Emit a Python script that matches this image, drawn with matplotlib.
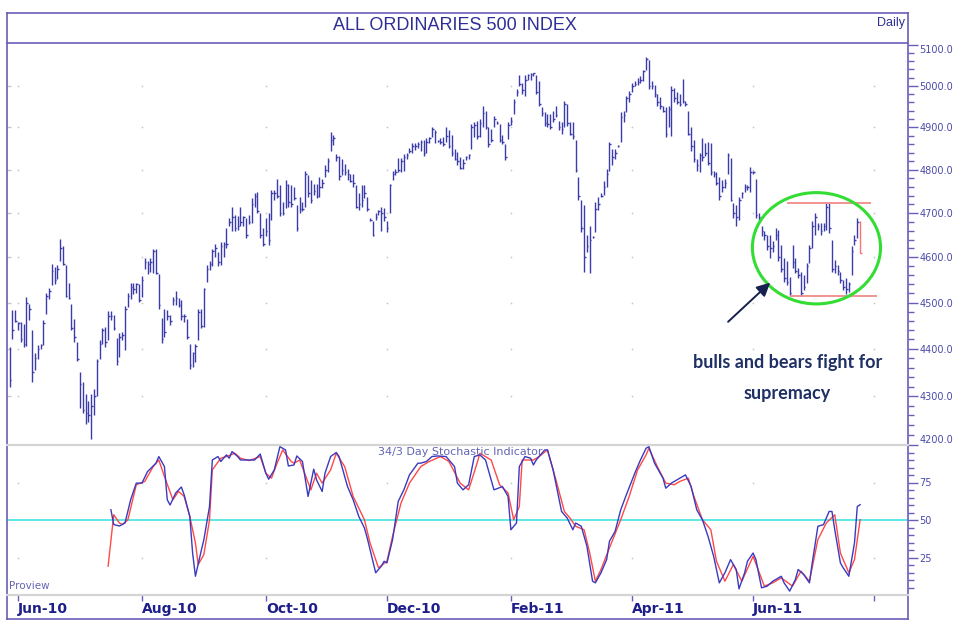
import pandas as pd
from matplotlib import pyplot as plt
from matplotlib.lines import Line2D
from matplotlib.patches import Ellipse
from matplotlib.ticker import FixedLocator, FixedFormatter, NullFormatter

# daily bars (high / low / close)
high = [4403, 4483, 4483, 4458, 4458, 4454, 4512, 4497, 4441, 4390, 4408, 4411, 4462, 4520, 4531, 4585,
        4578, 4582, 4641, 4626, 4583, 4544, 4497, 4465, 4415, 4350, 4329, 4305, 4289, 4305, 4315, 4379,
        4418, 4444, 4447, 4482, 4482, 4472, 4424, 4433, 4436, 4492, 4520, 4544, 4542, 4544, 4540, 4558,
        4599, 4591, 4599, 4619, 4619, 4562, 4467, 4487, 4483, 4472, 4512, 4526, 4510, 4505, 4476, 4465,
        4411, 4393, 4411, 4487, 4487, 4533, 4583, 4591, 4619, 4630, 4612, 4634, 4634,
        4666, 4689, 4715, 4696, 4693, 4715, 4693, 4689, 4696, 4734, 4745, 4749, 4700, 4666, 4689, 4700,
        4753, 4753, 4779, 4764, 4726, 4776, 4768, 4764, 4760, 4719, 4738, 4726, 4798, 4787, 4776, 4768,
        4768, 4783, 4779, 4810, 4828, 4889, 4881, 4836, 4832, 4825, 4813, 4802, 4791, 4791, 4764, 4745,
        4764, 4764, 4738, 4689, 4681, 4700, 4708, 4715, 4711, 4683, 4768, 4798, 4802, 4828, 4828, 4836,
        4840, 4851, 4862, 4862, 4866, 4870, 4870, 4874, 4878, 4900, 4893, 4870, 4875, 4878,
        4901, 4893, 4881, 4849, 4841, 4829, 4826, 4833, 4837, 4908, 4912, 4916, 4920, 4952, 4940, 4901,
        4897, 4928, 4916, 4908, 4881, 4861, 4912, 4924, 4968, 4991, 5027, 5007, 5027, 5029, 5031, 5032,
        5027, 5011, 4948, 4936, 4932, 4932, 4940, 4952, 4916, 4912, 4964, 4956, 4912, 4912, 4869, 4782,
        4730, 4718, 4651, 4670, 4647, 4726, 4737, 4745, 4775, 4802, 4865, 4849, 4849, 4857, 4936, 4940,
        4976, 4987, 5007, 5011, 5019, 5023, 5039, 5070, 5062, 5011, 5003, 4980, 4972, 4952,
        4948, 4950, 5000, 4995, 4985, 4980, 5016, 4962, 4938, 4900, 4870, 4825, 4840, 4874, 4862, 4866,
        4862, 4798, 4795, 4783, 4776, 4779, 4840, 4828, 4723, 4719, 4738, 4749, 4768, 4764, 4806, 4798,
        4779, 4700,
        4670, 4659, 4651, 4651, 4636, 4666, 4662, 4628, 4598, 4591, 4557, 4628, 4598, 4576, 4568, 4560,
        4587, 4628, 4681, 4700, 4678, 4678, 4678, 4723, 4723, 4640, 4595, 4583, 4568, 4549, 4553, 4545,
        4625, 4651, 4689, 4681]
low = [4320, 4420, 4458, 4440, 4415, 4404, 4406, 4462, 4329, 4354, 4379, 4400, 4408, 4474, 4508, 4539,
       4540, 4551, 4591, 4583, 4512, 4508, 4441, 4415, 4374, 4275, 4264, 4243, 4246, 4212, 4261, 4300,
       4379, 4411, 4404, 4418, 4462, 4440, 4365, 4383, 4418, 4397, 4490, 4508, 4519, 4522, 4501, 4512,
       4573, 4562, 4568, 4566, 4562, 4487, 4413, 4426, 4463, 4451, 4494, 4494, 4490, 4462, 4458, 4422,
       4358, 4361, 4372, 4418, 4444, 4447, 4546, 4571, 4580, 4601, 4580, 4583, 4601,
       4621, 4670, 4659, 4659, 4662, 4670, 4670, 4644, 4674, 4678, 4715, 4700, 4644, 4625, 4647, 4628,
       4685, 4730, 4734, 4693, 4696, 4711, 4715, 4715, 4730, 4659, 4700, 4704, 4715, 4738, 4723, 4742,
       4734, 4738, 4757, 4783, 4795, 4844, 4859, 4821, 4776, 4787, 4787, 4776, 4772, 4761, 4711, 4708,
       4715, 4734, 4704, 4681, 4647, 4685, 4696, 4659, 4681, 4657, 4700, 4776, 4787, 4795, 4795, 4798,
       4825, 4840, 4840, 4847, 4851, 4844, 4832, 4840, 4862, 4878, 4862, 4866, 4860, 4855,
       4865, 4851, 4833, 4822, 4810, 4802, 4802, 4822, 4826, 4849, 4877, 4873, 4877, 4901, 4897, 4853,
       4865, 4901, 4908, 4865, 4861, 4822, 4873, 4905, 4932, 4976, 4999, 4980, 4976, 5015, 5015, 5023,
       4980, 4952, 4928, 4904, 4901, 4897, 4912, 4924, 4893, 4885, 4901, 4904, 4881, 4873, 4794, 4730,
       4658, 4568, 4613, 4565, 4643, 4658, 4707, 4737, 4741, 4760, 4797, 4810, 4826, 4853, 4865, 4912,
       4936, 4960, 4984, 4999, 5003, 5007, 5011, 5039, 4991, 4991, 4972, 4952, 4944, 4936,
       4876, 4900, 4880, 4960, 4955, 4950, 4958, 4950, 4881, 4844, 4817, 4798, 4795, 4821, 4832, 4810,
       4787, 4783, 4764, 4730, 4749, 4757, 4791, 4727, 4689, 4670, 4685, 4734, 4749, 4753, 4749, 4790,
       4689, 4685,
       4647, 4640, 4617, 4598, 4613, 4640, 4591, 4568, 4545, 4538, 4515, 4576, 4564, 4553, 4515, 4527,
       4542, 4587, 4621, 4651, 4662, 4651, 4659, 4662, 4655, 4568, 4564, 4560, 4542, 4527, 4519, 4523,
       4560, 4628, 4644, 4610]
close = [4333, 4440, 4460, 4455, 4420, 4410, 4500, 4485, 4350, 4380, 4400, 4408, 4455, 4515, 4525, 4570,
         4550, 4575, 4620, 4585, 4515, 4510, 4445, 4425, 4378, 4325, 4270, 4265, 4260, 4280, 4300, 4375,
         4410, 4440, 4415, 4470, 4470, 4445, 4375, 4425, 4430, 4485, 4515, 4535, 4530, 4540, 4505, 4550,
         4590, 4585, 4590, 4615, 4565, 4495, 4420, 4435, 4470, 4460, 4505, 4510, 4495, 4470, 4470, 4425,
         4365, 4390, 4405, 4480, 4450, 4530, 4575, 4585, 4615, 4620, 4590, 4625, 4630,
         4630, 4680, 4690, 4665, 4670, 4680, 4690, 4650, 4680, 4720, 4740, 4705, 4650, 4630, 4660, 4640,
         4745, 4745, 4740, 4700, 4700, 4765, 4725, 4720, 4735, 4665, 4710, 4710, 4790, 4745, 4730, 4750,
         4740, 4760, 4770, 4800, 4820, 4870, 4875, 4830, 4785, 4800, 4795, 4790, 4775, 4770, 4715, 4720,
         4730, 4745, 4710, 4685, 4650, 4690, 4705, 4700, 4690, 4665, 4765, 4790, 4795, 4800, 4820, 4830,
         4835, 4845, 4855, 4855, 4860, 4865, 4840, 4865, 4875, 4895, 4890, 4868, 4865, 4860,
         4880, 4855, 4840, 4825, 4820, 4805, 4815, 4830, 4835, 4900, 4905, 4880, 4910, 4935, 4900, 4860,
         4870, 4920, 4910, 4870, 4865, 4830, 4905, 4915, 4960, 4985, 5005, 4990, 5015, 5025, 5028, 5030,
         4985, 4955, 4935, 4910, 4908, 4900, 4920, 4930, 4900, 4895, 4955, 4910, 4885, 4880, 4800, 4740,
         4665, 4600, 4625, 4640, 4645, 4710, 4720, 4740, 4760, 4790, 4860, 4830, 4840, 4855, 4925, 4930,
         4970, 4980, 5000, 5005, 5010, 5015, 5035, 5065, 5000, 5000, 4980, 4960, 4950, 4940,
         4885, 4945, 4990, 4970, 4960, 4955, 4962, 4955, 4885, 4855, 4825, 4810, 4835, 4830, 4840, 4815,
         4795, 4790, 4770, 4740, 4760, 4770, 4835, 4730, 4700, 4690, 4730, 4745, 4760, 4760, 4795, 4795,
         4695, 4690,
         4660, 4650, 4625, 4620, 4625, 4650, 4600, 4575, 4555, 4545, 4520, 4590, 4570, 4560, 4520, 4535,
         4580, 4620, 4670, 4690, 4670, 4660, 4670, 4715, 4665, 4575, 4580, 4570, 4550, 4535, 4530, 4540,
         4615, 4640, 4680, 4610]

# 34/3 stochastic, read at turning points (trading day number, value)
stoch_k_day = [36, 37, 39, 41, 43, 45, 47, 49, 52, 53, 55, 56, 57, 59, 61, 62, 64, 65, 66, 68, 69, 71, 72,
               74, 75, 77, 78, 79, 81, 82, 84, 87, 89, 91, 92, 94, 96, 98, 99, 101, 102, 104, 106, 108,
               109, 111, 112, 114, 116, 117, 120, 122, 124, 126, 127, 129, 130, 132, 133, 134, 136, 138,
               140, 142, 145, 146, 148, 150, 152, 155, 158, 159, 161, 163, 165, 167, 169, 172, 175, 177,
               178, 180, 181, 183, 185, 186, 187, 190, 191, 193, 196, 198, 200, 201, 203, 205, 207, 208,
               210, 212, 213, 215, 217, 219, 222, 224, 226, 227, 229, 232, 233, 235, 238, 240, 242, 244,
               246, 248, 250, 252, 254, 256, 258, 259, 261, 262, 264, 265, 267, 269, 271, 274, 275, 277,
               279, 280, 282, 284, 285, 287, 289, 291, 292, 293, 295, 296, 298, 300, 301, 302]
stoch_k = [56.8, 47, 46, 48, 63.5, 74.6, 74.6, 82.3, 87.9, 92.3, 85.6, 63.5, 60, 68, 72, 66.8, 52.4, 28,
           12.5, 29, 36.9, 59, 90, 92.3, 89, 93.4, 91.2, 95.6, 92.3, 90, 90, 90, 94, 81.2, 77.2, 83.4,
           98.9, 96.7, 86, 86.7, 92.7, 89, 65.7, 83.9, 76.8, 69, 81.2, 92.3, 95, 92.3, 72.3, 63.5, 52.4,
           44.7, 38, 22.5, 14.8, 19.2, 22.5, 21.4, 36.9, 62.4, 70.1, 80.1, 87.9, 87.9, 89, 92.3, 92.7,
           92.3, 85.6, 74.6, 70.1, 73.5, 92.3, 93.4, 90, 70.1, 72.3, 65.7, 43.5, 48, 85.6, 92.3, 91.2,
           86.7, 90, 96.7, 96.7, 83.4, 55.7, 51.3, 43.5, 48, 45.8, 32.5, 9.2, 8.1, 14.8, 23.6, 35.8,
           42.4, 56.8, 66.8, 81.2, 90, 97.8, 98.9, 87.9, 77.9, 71.2, 74.6, 77.9, 80.1, 72.3, 56.8, 50.2,
           39.1, 25.8, 8.1, 14.8, 23.6, 17, 4.1, 14.8, 22.5, 28, 23.6, 4.8, 5.9, 9.2, 12.5, 8.1, 2.6,
           10.3, 17, 13.6, 8.1, 21.4, 45.8, 46.9, 55.7, 55.7, 43.5, 21.4, 18.1, 12.5, 34.7, 59, 60.2]
stoch_d_day = [35, 37, 39, 40, 42, 45, 48, 51, 53, 55, 58, 60, 62, 64, 66, 67, 69, 71, 72, 75, 77, 80, 82,
               85, 89, 91, 93, 95, 97, 100, 101, 103, 107, 109, 111, 114, 116, 119, 122, 126, 128, 131,
               134, 136, 139, 142, 146, 149, 153, 156, 160, 163, 166, 167, 171, 174, 177, 179, 181, 182,
               186, 188, 191, 194, 197, 199, 201, 204, 206, 208, 210, 213, 217, 220, 223, 226, 227, 230,
               233, 236, 238, 241, 243, 246, 249, 251, 254, 257, 260, 264, 268, 271, 274, 278, 281, 284,
               287, 290, 293, 295, 298, 300, 302]
stoch_d = [19.2, 53.5, 48, 47, 50, 73.5, 75.7, 85.6, 90, 79, 63.5, 69, 65.7, 52.4, 34.7, 20.3, 27, 50,
           83.4, 91.2, 92.3, 94.5, 91.2, 89.6, 92.3, 81.2, 77.9, 87.9, 96.7, 89, 87.9, 90, 70.1, 81.2,
           74.6, 83.4, 94.5, 85.6, 65.7, 50.2, 34.7, 18.1, 22.5, 39.1, 61.3, 74.6, 85.6, 89, 92.3, 89,
           74.6, 70.1, 87.9, 94.5, 90, 73.5, 68, 50.2, 59, 90, 90, 92.3, 96.7, 76.8, 55.7, 51.3, 45.8,
           43.5, 28, 9.2, 17, 31.4, 50.2, 65.7, 83.4, 93.4, 97.8, 85.6, 74.6, 73.5, 75.7, 77.9, 65.7,
           50.2, 43.5, 22.5, 9.2, 20.3, 9.2, 25.8, 5.9, 8.1, 11.4, 5.9, 15.9, 9.2, 36.9, 48, 53.5, 28,
           14.8, 23.6, 50.2]

price_levels = [4200, 4300, 4400, 4500, 4600, 4700, 4800, 4900, 5000, 5100]
stoch_levels = [25, 50, 75]
resistance = 4722
support = 4515
last_date = '2011-07-25'

W, H = 956, 631
BLUE = '#3b3bab'
FRAME = '#6a5cb8'
TXT = '#2e2e96'


def fx(x):
    return x / W


def fy(y):
    return 1 - y / H


fig = plt.figure(figsize=(W / 100, H / 100), dpi=100)
ax = fig.add_axes([fx(7), fy(445), fx(901), 402 / H])
ax2 = fig.add_axes([fx(7), fy(595), fx(901), 150 / H], sharex=ax)

n = len(close)
dates = pd.bdate_range(end=last_date, periods=n)
days = list(range(n))
ext = pd.bdate_range(start=dates[0], periods=n + 30)
month_pos, month_lab = [], []
for i in range(1, len(ext)):
    if ext[i].month != ext[i - 1].month and ext[i].month % 2 == 0:
        month_pos.append(i)
        month_lab.append(ext[i].strftime('%b-%y') if i < n else '')

# price bars
ax.vlines(days[:-1], low[:-1], high[:-1], color=BLUE, lw=1.0)
ax.hlines(close[:-1], [d for d in days[:-1]], [d + 0.55 for d in days[:-1]], color=BLUE, lw=1.0)
ax.vlines(days[-1], low[-1], high[-1], color='#ff7070', lw=1.0)
ax.hlines(close[-1], days[-1], days[-1] + 0.55, color='#ff7070', lw=1.0)

ax.set_yscale('log')
ax.set_ylim(4199, 5105)
ax.set_xlim(-0.9, 319)
ax.yaxis.tick_right()
ax.yaxis.set_major_locator(FixedLocator(price_levels))
ax.yaxis.set_major_formatter(FixedFormatter([f'{v:.1f}' for v in price_levels]))
ax.yaxis.set_minor_locator(FixedLocator([v for v in range(4200, 5101, 20) if v % 100]))
ax.yaxis.set_minor_formatter(NullFormatter())
ax.tick_params(axis='y', which='major', length=7, width=1, color=FRAME, labelsize=7,
               labelcolor='#4a4aa8', pad=1)
ax.tick_params(axis='y', which='minor', length=4, width=1, color=FRAME)
ax.tick_params(axis='x', bottom=False, labelbottom=False)
labels = ax.get_yticklabels()
labels[0].set_verticalalignment('bottom')
labels[-1].set_verticalalignment('top')
for s in ax.spines.values():
    s.set_visible(False)

# faint grid dots
gx = [p for p in month_pos for _ in price_levels[1:-1]]
gy = [v for _ in month_pos for v in price_levels[1:-1]]
ax.scatter(gx, gy, s=1.5, color='#c4c4c4', zorder=0, lw=0)
ax.scatter([-0.3] * len(price_levels[1:-1]), price_levels[1:-1], s=6, marker='_', color='#c4c4c4', lw=1)

# trading range annotation
ax.hlines(resistance, 276, 306, color='#f08a8a', lw=1.3)
ax.hlines(support, 277, 308, color='#f08a8a', lw=1.3)
ax.add_patch(Ellipse((286.5, 4622), 45.5, 250, fill=False, ec='#33dd33', lw=2.2, zorder=3))
ax.annotate('', xy=(270.8, 4548), xytext=(254.4, 4454),
            arrowprops=dict(arrowstyle='-|>', color='#15204f', lw=1.4, mutation_scale=20))
ax.text(276.2, 4370, 'bulls and bears fight for', ha='center', va='center', fontsize=13,
        family='Lato', fontweight='bold', color='#1f3066')
ax.text(276.2, 4306, 'supremacy', ha='center', va='center', fontsize=13,
        family='Lato', fontweight='bold', color='#1f3066')

# stochastic panel
ax2.axhline(50, color='#44e4e4', lw=1.2, zorder=1)
ax2.plot(stoch_d_day, stoch_d, color='#ff4848', lw=1.0, zorder=2)
ax2.plot(stoch_k_day, stoch_k, color='#3a3ac0', lw=1.0, zorder=3)
ax2.set_ylim(0, 100)
ax2.yaxis.tick_right()
ax2.yaxis.set_major_locator(FixedLocator(stoch_levels))
ax2.yaxis.set_major_formatter(FixedFormatter([str(v) for v in stoch_levels]))
ax2.yaxis.set_minor_locator(FixedLocator([v for v in range(0, 101, 5) if v % 25]))
ax2.tick_params(axis='y', which='major', length=7, width=1, color=FRAME, labelsize=7,
                labelcolor='#4a4aa8', pad=1)
ax2.tick_params(axis='y', which='minor', length=4, width=1, color=FRAME)
ax2.set_xticks(month_pos)
ax2.set_xticklabels(month_lab)
ax2.tick_params(axis='x', length=4, width=1, color=FRAME, labelsize=10, labelcolor='#1e1e8a', pad=1)
for lbl in ax2.get_xticklabels():
    lbl.set_horizontalalignment('left')
    lbl.set_fontweight('bold')
for s in ax2.spines.values():
    s.set_visible(False)
gx2 = [p for p in month_pos for _ in (25, 75)]
gy2 = [v for _ in month_pos for v in (25, 75)]
ax2.scatter(gx2, gy2, s=1.5, color='#c4c4c4', zorder=0, lw=0)
ax2.text(131, 95.3, '34/3 Day Stochastic Indicator', ha='left', va='center', fontsize=8,
         color='#6464b4')
ax2.text(-0.2, 6.3, 'Proview', ha='left', va='center', fontsize=7.5, color='#6464b4')

# frame and separators
lines = [
    ([7, 908], [13, 13], FRAME, 1.2),
    ([7, 908], [619, 619], FRAME, 1.2),
    ([7, 7], [13, 619], FRAME, 1.2),
    ([908, 908], [13, 619], FRAME, 1.2),
    ([7, 908], [43, 43], FRAME, 1.2),
    ([7, 908], [445, 445], '#d4d4d4', 1.6),
    ([7, 908], [595, 595], '#d4d4d4', 1.6),
]
for xs, ys, c, w in lines:
    fig.add_artist(Line2D([fx(v) for v in xs], [fy(v) for v in ys], color=c, lw=w,
                          transform=fig.transFigure))

fig.text(fx(455), fy(25), 'ALL ORDINARIES 500 INDEX', ha='center', va='center', fontsize=13,
         color=TXT, family='Liberation Sans')
fig.text(fx(905), fy(23), 'Daily', ha='right', va='center', fontsize=9, color=TXT,
         family='Liberation Sans')

plt.savefig('out.png', dpi=100)
